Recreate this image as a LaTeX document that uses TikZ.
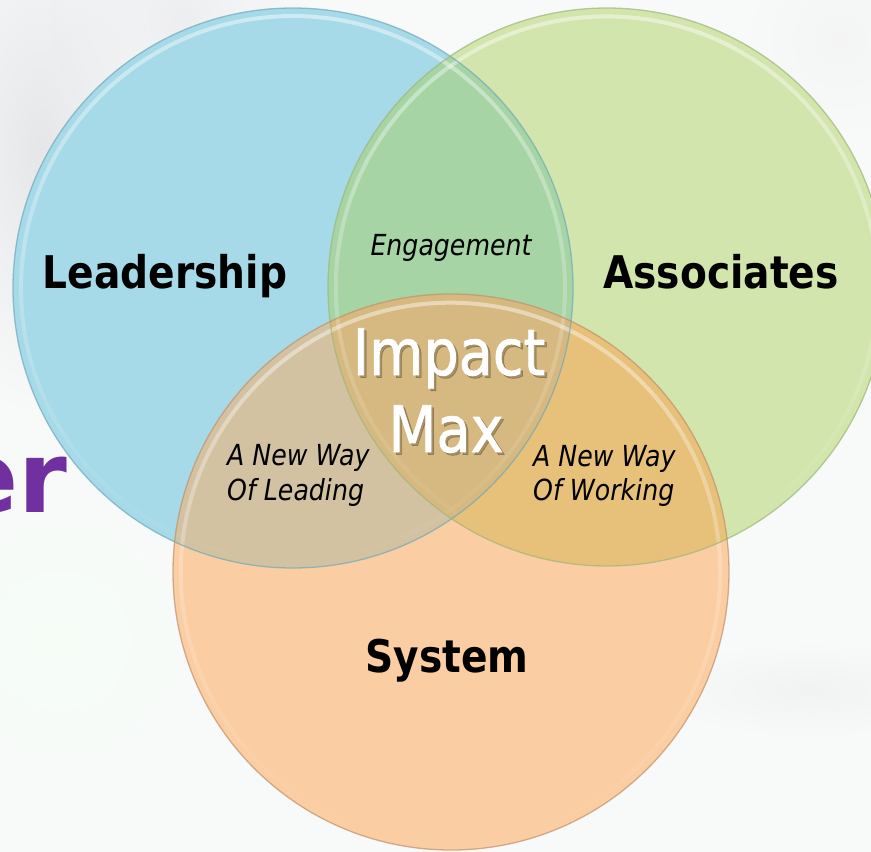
\documentclass[tikz,border=0pt]{standalone}
\usepackage{fontspec}
\setmainfont{DejaVu Sans}[FakeStretch=0.87]
\newfontfamily\corefont{DejaVu Sans}[FakeStretch=0.87, FakeBold=1.2]
\newfontfamily\wordfont{DejaVu Sans}
\usetikzlibrary{fadings}

% region colours
\definecolor{cBlue}{HTML}{A7DAE8}
\definecolor{cGreen}{HTML}{D2E5AC}
\definecolor{cOrange}{HTML}{FBCDA2}
\definecolor{cBG}{HTML}{A6D4A4}
\definecolor{cBO}{HTML}{D3C2A2}
\definecolor{cGO}{HTML}{E7C07A}
\definecolor{cAll}{HTML}{D6B980}
\definecolor{eBlue}{HTML}{6FA9BA}
\definecolor{eGreen}{HTML}{9FB67A}
\definecolor{eOrange}{HTML}{C0916A}
\definecolor{purpleword}{HTML}{7030A0}
\definecolor{paper}{HTML}{F8FAFA}

\tikzfading[name=softspot, inner color=transparent!0, outer color=transparent!100]
\tikzfading[name=topglow, top color=transparent!0, middle color=transparent!100, bottom color=transparent!100]

\tikzset{
  setlabel/.style={font=\bfseries\fontsize{45}{54}\selectfont, text=black, inner sep=0pt},
  pairlabel/.style={font=\itshape\fontsize{29}{35}\selectfont, text=black, inner sep=0pt},
  corelabel/.style={font=\corefont\fontsize{64}{77}\selectfont, text=white, inner sep=0pt},
  coreshadow/.style={font=\corefont\fontsize{64}{77}\selectfont, text=black, text opacity=0.22, inner sep=0pt},
  rim/.style={line width=1.3pt, draw opacity=0.7},
  gloss/.style={line width=4pt, draw=white, draw opacity=0.45, path fading=topglow},
  haze/.style={path fading=softspot}
}

\begin{document}
\begin{tikzpicture}[x=1pt,y=-1pt]
  \useasboundingbox (0,0) rectangle (871,852);

  % soft background
  \fill[paper] (0,0) rectangle (871,852);
  \fill[haze, color=blue!5!gray!22!white, fill opacity=0.8] (40,150) ellipse (120pt and 260pt);
  \fill[haze, color=blue!4!gray!15!white, fill opacity=0.8] (180,20) circle (130pt);
  \fill[haze, color=green!4!white, fill opacity=0.7] (60,640) circle (160pt);
  \fill[haze, color=gray!12!white, fill opacity=0.8] (810,690) ellipse (150pt and 45pt);
  \fill[haze, color=gray!10!white, fill opacity=0.7] (840,40) circle (90pt);

  % partly hidden title word
  \node[font=\wordfont\bfseries\fontsize{99}{110}\selectfont, text=purpleword,
        anchor=base east, inner sep=0pt] (word) at (68,512) {er};

  % circle geometry
  \def\blue{(293,288) circle (280pt)}
  \def\green{(607,287) circle (279pt)}
  \def\orange{(451,572) circle (278pt)}

  % single-set regions
  \fill[cBlue] \blue;
  \fill[cGreen] \green;
  \fill[cOrange] \orange;

  % pairwise overlaps
  \begin{scope}\clip \blue; \fill[cBG] \green; \end{scope}
  \begin{scope}\clip \blue; \fill[cBO] \orange; \end{scope}
  \begin{scope}\clip \green; \fill[cGO] \orange; \end{scope}
  % common core
  \begin{scope}\clip \blue; \clip \green; \fill[cAll] \orange; \end{scope}

  % glossy band just inside the upper rim of each circle
  \draw[gloss] (293,288) circle (272pt);
  \draw[gloss] (607,287) circle (271pt);
  \draw[gloss] (451,572) circle (270pt);

  % outlines
  \draw[rim, eBlue] \blue;
  \draw[rim, eGreen] \green;
  \draw[rim, eOrange] \orange;

  % set labels
  \node[setlabel, anchor=base] (lead) at (165,288) {Leadership};
  \node[setlabel, anchor=base] (assoc) at (721,288) {Associates};
  \node[setlabel, anchor=base] (sys) at (447,672) {System};

  % overlap labels
  \node[pairlabel, anchor=base] (eng) at (451,255) {Engagement};
  \node[pairlabel, anchor=base west] (lw1) at (227,465) {A New Way};
  \node[pairlabel, anchor=base west] (lw2) at (227,500) {Of Leading};
  \node[pairlabel, anchor=base west] (ww1) at (533,466) {A New Way};
  \node[pairlabel, anchor=base west] (ww2) at (533,500) {Of Working};

  % centre label with drop shadow
  \node[coreshadow, anchor=base] at (451.5,377.5) {Impact};
  \node[coreshadow, anchor=base] at (448.5,454.5) {Max};
  \node[corelabel, anchor=base] (imp) at (449,375) {Impact};
  \node[corelabel, anchor=base] (max) at (446,452) {Max};
\end{tikzpicture}
\end{document}
